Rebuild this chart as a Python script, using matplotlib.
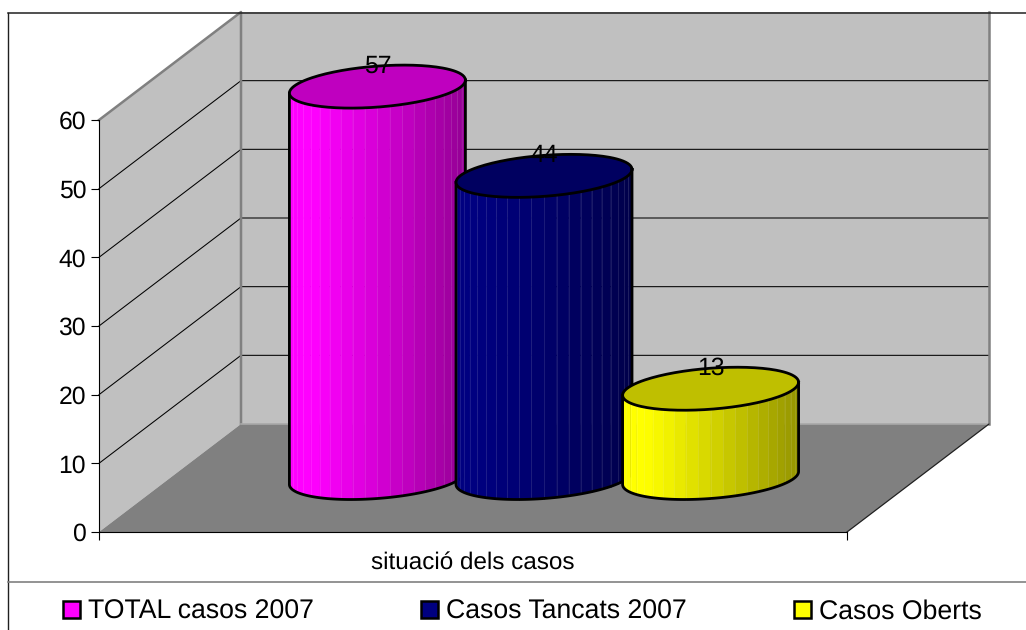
#!/usr/bin/env python3
"""Three cylinders on an Excel-style 3D wall chart."""

import matplotlib
matplotlib.use("Agg")
import matplotlib.pyplot as plt
import numpy as np
from matplotlib.lines import Line2D
from matplotlib.patches import Patch

W, H = 1026, 630
CATEGORIES = ["TOTAL casos 2007", "Casos Tancats 2007", "Casos Oberts"]
VALUES = [57, 44, 13]
COLORS = [(1.0, 0.0, 1.0), (0.0, 0.0, 0.5), (1.0, 1.0, 0.0)]
Y_TICKS = [0, 10, 20, 30, 40, 50, 60]
X_LABEL = "situació dels casos"

plt.rcParams.update({"font.family": ["Liberation Sans", "DejaVu Sans"], "font.size": 17.8, "text.hinting": "none"})

# plot box in pixels, and how far the back wall sits behind the front plane
LEFT, RIGHT, BASE, TOP = 99, 847, 532, 120
PX_PER_UNIT = (BASE - TOP) / Y_TICKS[-1]
DEPTH_X = 142
DEPTH_V = 108 / PX_PER_UNIT
WALL = "#C0C0C0"
FLOOR = "#808080"

fig = plt.figure(figsize=(W / 100, H / 100), dpi=100, facecolor="white")
ax = fig.add_axes([LEFT / W, (H - BASE) / H, (RIGHT - LEFT) / W, (BASE - TOP) / H])
ax.set_xlim(LEFT, RIGHT)
ax.set_ylim(0, Y_TICKS[-1])
ax.patch.set_visible(False)
for side in ("top", "right"):
    ax.spines[side].set_visible(False)
ax.set_yticks(Y_TICKS)
ax.set_xticks([LEFT, RIGHT], ["", ""])
ax.tick_params(length=5.8, width=0.8, pad=3.5)
ax.get_xticklines()[2].set_color(FLOOR)
ax.set_xlabel(X_LABEL, va="center", fontsize=17.5)
ax.xaxis.set_label_coords(0.5, -30.5 / (BASE - TOP))

# walls and floor
top_v = Y_TICKS[-1]
ax.fill([LEFT, LEFT + DEPTH_X, LEFT + DEPTH_X, LEFT], [0, DEPTH_V, top_v + DEPTH_V, top_v],
        color=WALL, lw=0, zorder=1, clip_on=False)
ax.fill([LEFT + DEPTH_X, RIGHT + DEPTH_X, RIGHT + DEPTH_X, LEFT + DEPTH_X],
        [DEPTH_V, DEPTH_V, top_v + DEPTH_V, top_v + DEPTH_V], color=WALL, lw=0, zorder=1, clip_on=False)
ax.fill([LEFT, RIGHT, RIGHT + DEPTH_X, LEFT + DEPTH_X], [0, 0, DEPTH_V, DEPTH_V],
        color=FLOOR, lw=0, zorder=1.1, clip_on=False)
for v in Y_TICKS[1:-1]:
    ax.plot([LEFT, LEFT + DEPTH_X, RIGHT + DEPTH_X], [v, v + DEPTH_V, v + DEPTH_V],
            color="black", lw=0.75, zorder=1.2, clip_on=False)
ax.plot([LEFT, LEFT + DEPTH_X, LEFT + DEPTH_X], [top_v, top_v + DEPTH_V, DEPTH_V],
        color=FLOOR, lw=1.8, zorder=1.3, clip_on=False)
ax.plot([RIGHT + DEPTH_X, RIGHT + DEPTH_X], [top_v + DEPTH_V, DEPTH_V], color=FLOOR, lw=1.8, zorder=1.3, clip_on=False)
ax.plot([LEFT + DEPTH_X, RIGHT + DEPTH_X], [DEPTH_V, DEPTH_V], color="#A8A8A8", lw=1.2, zorder=1.3, clip_on=False)
ax.plot([RIGHT, RIGHT + DEPTH_X], [0, DEPTH_V], color="#202020", lw=0.9, zorder=1.3, clip_on=False)

# cylinders: sheared ellipses top and bottom, shaded facets between
SEMI_X = 88
SEMI_V = 20.5 / PX_PER_UNIT
SHEAR_V = 6.5 / PX_PER_UNIT
BASE_V = DEPTH_V / 2
SPACING = (RIGHT - LEFT) / 4.49
FIRST = (LEFT + RIGHT) / 2 + DEPTH_X / 2 - SPACING
N_FACETS = 22
EDGE_LW = 2.0


def ellipse(cx, cv, t):
    return cx + SEMI_X * np.cos(t), cv + SHEAR_V * np.cos(t) - SEMI_V * np.sin(t)


def shade(frac):
    return 1.0 - 0.42 * np.clip((frac - 0.12) / 0.88, 0, 1) ** 1.1


for i, (value, color) in enumerate(zip(VALUES, COLORS)):
    cx = FIRST + i * SPACING
    top = BASE_V + value
    z = 3 + i
    # facets run from right (t=0) to left (t=pi) along the front
    edges = np.linspace(0, np.pi, N_FACETS + 1)
    for t0, t1 in zip(edges[:-1], edges[1:]):
        ts = np.linspace(t0, t1, 6)
        xb, vb = ellipse(cx, BASE_V, ts)
        xt, vt = ellipse(cx, top, ts[::-1])
        frac = (np.cos((t0 + t1) / 2) + 1) / 2
        rgb = np.array(color) * shade(frac)
        ax.fill(np.r_[xb, xt], np.r_[vb, vt], color=rgb, lw=0.3, zorder=z, clip_on=False)
        light = 0.85 * rgb + 0.15
        ax.plot([xb[-1], xb[-1]], [vb[-1], vt[0]], color=light, lw=0.5, zorder=z + 0.1, clip_on=False)
    ts = np.linspace(0, 2 * np.pi, 181)
    xt, vt = ellipse(cx, top, ts)
    ax.fill(xt, vt, color=np.array(color) * 0.75, lw=0, zorder=z + 0.2, clip_on=False)
    ax.plot(xt, vt, color="black", lw=EDGE_LW, zorder=z + 0.3, clip_on=False)
    ts = np.linspace(0, np.pi, 91)
    xb, vb = ellipse(cx, BASE_V, ts)
    ax.plot(np.r_[xb[0], xb, xb[-1]], np.r_[top + SHEAR_V, vb, top - SHEAR_V],
            color="black", lw=EDGE_LW, zorder=z + 0.15, clip_on=False)
    ax.text(cx, top + 20.5 / PX_PER_UNIT, str(value), ha="center", va="center", zorder=z + 0.4, clip_on=False)

# outer frame and legend band
fig.add_artist(Line2D([8 / W, 8 / W], [0, 1 - 12.5 / H], color="#202020", lw=1.0))
fig.add_artist(Line2D([8 / W, 1], [1 - 12.5 / H] * 2, color="#202020", lw=1.1, zorder=5))
fig.add_artist(Line2D([8 / W, 1], [1 - 581.5 / H] * 2, color=FLOOR, lw=1.2))

handles = [Patch(facecolor=c, edgecolor="black", lw=1.8) for c in COLORS]
fig.legend(handles, CATEGORIES, ncol=3, loc="center left", bbox_to_anchor=(63 / W, 1 - 612 / H),
           frameon=False, borderpad=0, borderaxespad=0, fontsize=19.2, handlelength=0.62, handleheight=0.62,
           handletextpad=0.3, columnspacing=4.04)

fig.savefig("out.png", dpi=100, facecolor="white")
